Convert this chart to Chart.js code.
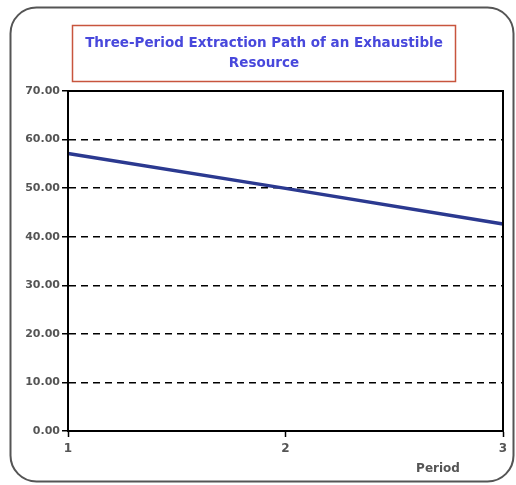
<!DOCTYPE html>
<html lang="en">
<head>
    <meta charset="UTF-8">
    <title>Extraction Path</title>
    <script src="https://cdn.jsdelivr.net/npm/chart.js"></script>
    <style>
        body {
            margin: 0;
            background-color: #ffffff;
        }
        .grafico {
            width: 516px;
            height: 485px;
        }
    </style>
</head>
<body>
    <div class="grafico">
        <canvas id="myChart" width="516" height="485"></canvas>
    </div>

    <script>
        // data
        const periods = ['1', '2', '3'];
        const extraction = [57.15, 49.95, 42.6];
        const yTicks = [0, 10, 20, 30, 40, 50, 60, 70];

        const xTickFont = { family: 'DejaVu Sans', size: 12, weight: 'bold' };
        const yTickFont = { family: 'DejaVu Sans', size: 11, weight: 'bold' };

        // outer rounded frame, title box, plot border and the "Period" label
        const decorations = {
            id: 'decorations',
            beforeDraw(chart) {
                const ctx = chart.ctx;
                ctx.save();
                ctx.fillStyle = '#ffffff';
                ctx.fillRect(0, 0, chart.width, chart.height);
                ctx.beginPath();
                ctx.roundRect(10.5, 7.5, 503, 474, 26);
                ctx.strokeStyle = '#555555';
                ctx.lineWidth = 2;
                ctx.stroke();
                ctx.restore();
            },
            afterDraw(chart) {
                const ctx = chart.ctx;
                const area = chart.chartArea;
                const tb = chart.titleBlock;
                ctx.save();
                // box around the title
                const cx = tb.left + tb.width / 2;
                ctx.strokeStyle = '#c8553d';
                ctx.lineWidth = 1.5;
                ctx.strokeRect(cx - 191.5, 25.5, 383, 56);
                // solid frame of the plot area
                ctx.strokeStyle = '#000000';
                ctx.lineWidth = 2;
                ctx.strokeRect(area.left, area.top, area.right - area.left, area.bottom - area.top);
                // axis title
                ctx.fillStyle = '#555555';
                ctx.font = 'bold 12px "DejaVu Sans"';
                ctx.textAlign = 'center';
                ctx.textBaseline = 'middle';
                ctx.fillText('Period', area.right - 65, 469);
                ctx.restore();
            }
        };

        var ctx = document.getElementById('myChart');

        var myChart = new Chart(ctx, {
            type: 'line',
            data: {
                labels: periods,
                datasets: [{
                    label: 'Extraction',
                    data: extraction,
                    borderColor: '#2b3990',
                    borderWidth: 3.5,
                    pointRadius: 0,
                    tension: 0,
                    fill: false
                }]
            },
            options: {
                responsive: false,
                animation: false,
                devicePixelRatio: 1,
                layout: {
                    padding: { left: 25, right: 13, top: 0, bottom: 0 }
                },
                plugins: {
                    legend: { display: false },
                    tooltip: { enabled: false },
                    title: {
                        display: true,
                        text: ['Three-Period Extraction Path of an Exhaustible', 'Resource'],
                        color: '#4848dc',
                        font: { family: 'DejaVu Sans', size: 13.5, lineHeight: 20 / 13.5, weight: 'bold' },
                        padding: { top: 33, bottom: 18 }
                    }
                },
                scales: {
                    x: {
                        offset: false,
                        afterFit: s => { s.height = 54; },
                        grid: {
                            drawOnChartArea: false,
                            tickLength: 6,
                            tickColor: '#000000',
                            tickWidth: 1.5
                        },
                        border: { color: '#000000', width: 2 },
                        ticks: {
                            color: '#555555',
                            font: xTickFont,
                            padding: 5,
                            maxRotation: 0
                        }
                    },
                    y: {
                        min: yTicks[0],
                        max: yTicks[yTicks.length - 1],
                        afterFit: s => { s.width = 43; },
                        afterBuildTicks: s => { s.ticks = yTicks.map(v => ({ value: v })); },
                        grid: {
                            color: '#000000',
                            lineWidth: 1.5,
                            tickLength: 6,
                            tickColor: '#000000',
                            tickWidth: 1.5
                        },
                        border: { color: '#000000', width: 2, dash: [7, 5] },
                        ticks: {
                            color: '#555555',
                            font: yTickFont,
                            padding: 2,
                            callback: v => Number(v).toFixed(2)
                        }
                    }
                }
            },
            plugins: [decorations]
        });
    </script>
</body>
</html>
